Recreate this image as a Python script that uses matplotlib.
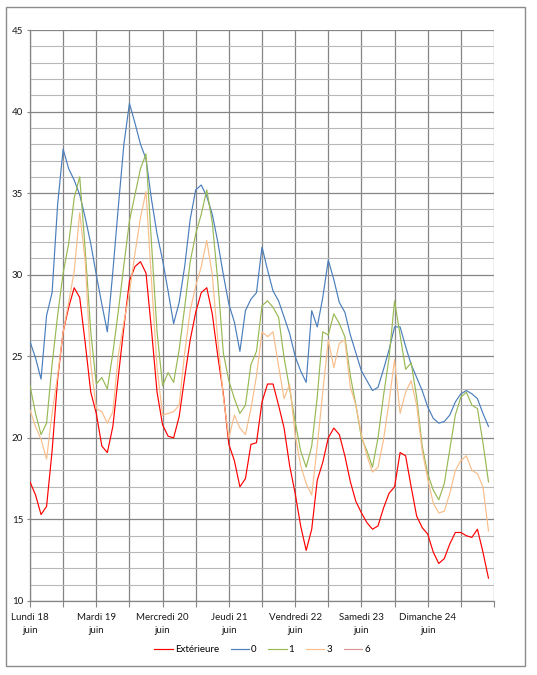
import matplotlib
matplotlib.use("Agg")
import matplotlib.pyplot as plt
from matplotlib.patches import Rectangle
from matplotlib.ticker import MultipleLocator


OUTPUT_PATH = "out.png"

# hours since Monday 18 June 00:00, one reading every 2 hours
hours = list(range(0, 168, 2))

exterieure = [
    17.3, 16.5, 15.3, 15.8, 19.2, 23.6, 26.5, 28.0, 29.2, 28.6, 25.8, 22.8,
    21.5, 19.5, 19.1, 20.7, 23.8, 26.8, 29.6, 30.5, 30.8, 30.1, 26.6, 22.8,
    20.8, 20.1, 20.0, 21.3, 23.7, 26.0, 27.7, 28.9, 29.2, 27.6, 25.0, 22.7,
    19.6, 18.6, 17.0, 17.5, 19.6, 19.7, 22.2, 23.3, 23.3, 22.0, 20.6, 18.3,
    16.6, 14.6, 13.1, 14.4, 17.4, 18.5, 20.0, 20.6, 20.2, 18.9, 17.3, 16.1,
    15.4, 14.8, 14.4, 14.6, 15.7, 16.6, 17.0, 19.1, 18.9, 17.0, 15.2, 14.5,
    14.1, 13.0, 12.3, 12.6, 13.5, 14.2, 14.2, 14.0, 13.9, 14.4, 13.0, 11.4,
]
niveau_0 = [
    25.9, 24.9, 23.6, 27.5, 28.9, 34.3, 37.7, 36.5, 35.8, 34.9, 33.5, 31.9,
    30.0, 28.2, 26.5, 30.2, 34.2, 38.0, 40.5, 39.3, 38.0, 37.1, 34.6, 32.5,
    30.9, 29.0, 27.0, 28.3, 30.5, 33.4, 35.2, 35.5, 34.8, 33.7, 32.0, 30.0,
    28.2, 27.1, 25.3, 27.8, 28.5, 28.9, 31.7, 30.3, 29.0, 28.4, 27.4, 26.4,
    25.0, 24.1, 23.4, 27.8, 26.8, 28.6, 30.9, 29.7, 28.3, 27.7, 26.3, 25.2,
    24.1, 23.5, 22.9, 23.1, 24.2, 25.4, 26.8, 26.8, 25.6, 24.5, 23.7, 22.9,
    21.9, 21.2, 20.9, 21.0, 21.4, 22.2, 22.7, 22.9, 22.7, 22.4, 21.5, 20.7,
]
niveau_1 = [
    23.2, 21.5, 20.2, 20.9, 24.5, 27.5, 30.1, 31.9, 34.7, 36.0, 31.5, 26.5,
    23.3, 23.7, 23.0, 25.2, 27.8, 30.6, 33.3, 34.9, 36.5, 37.4, 31.9, 26.5,
    23.2, 24.0, 23.4, 25.4, 28.0, 30.8, 32.5, 33.7, 35.2, 33.2, 29.6, 25.2,
    23.5, 22.4, 21.5, 22.0, 24.5, 25.3, 28.1, 28.4, 28.0, 27.4, 24.9, 23.0,
    21.0, 19.2, 18.2, 19.5, 22.5, 26.5, 26.3, 27.6, 27.0, 26.2, 23.8, 22.0,
    20.0, 19.2, 18.2, 20.0, 22.6, 24.9, 28.4, 26.3, 24.2, 24.6, 22.5, 19.5,
    17.8, 16.8, 16.2, 17.2, 19.3, 21.4, 22.5, 22.8, 22.0, 21.8, 19.7, 17.3,
]
niveau_3 = [
    21.7, 20.7, 19.9, 18.7, 21.5, 23.8, 26.5, 28.3, 30.2, 33.8, 30.8, 24.5,
    21.8, 21.6, 20.9, 21.6, 25.1, 27.1, 28.9, 31.3, 33.5, 35.1, 29.6, 24.3,
    21.4, 21.5, 21.6, 22.0, 25.2, 27.8, 29.3, 30.5, 32.1, 30.0, 26.0, 22.5,
    20.0, 21.4, 20.6, 20.2, 21.8, 23.8, 26.5, 26.2, 26.5, 24.4, 22.4, 23.3,
    20.2, 18.3, 17.2, 16.5, 19.5, 22.8, 26.0, 24.3, 25.8, 26.0, 23.1, 22.0,
    20.2, 18.9, 17.9, 18.2, 19.9, 22.2, 24.8, 21.5, 22.8, 23.5, 22.0, 19.2,
    17.5, 16.0, 15.4, 15.5, 16.6, 18.0, 18.6, 18.9, 18.0, 17.8, 17.0, 14.3,
]
niveau_6 = []  # listed in the legend, no readings drawn

day_labels = [
    "Lundi 18\njuin", "Mardi 19\njuin", "Mercredi 20\njuin", "Jeudi 21\njuin",
    "Vendredi 22\njuin", "Samedi 23\njuin", "Dimanche 24\njuin",
]
series_names = ["Extérieure", "0", "1", "3", "6"]
series_colors = ["#ff0000", "#4a7ebb", "#98b954", "#f9be8a", "#d99694"]


def main():
    plt.rcParams["font.family"] = ["Lato", "DejaVu Sans"]

    fig = plt.figure(figsize=(5.37, 6.75), dpi=100)
    fig.patch.set_facecolor("white")
    fig.patches.append(
        Rectangle(
            (6 / 537, 1 - 666 / 675),
            519 / 537,
            659 / 675,
            transform=fig.transFigure,
            facecolor="none",
            edgecolor="#8c8c8c",
            linewidth=1.0,
        )
    )

    ax = fig.add_axes([30 / 537, 74 / 675, 464 / 537, 571 / 675])
    ax.set_xlim(0, 168)
    ax.set_ylim(10, 45)

    values = [exterieure, niveau_0, niveau_1, niveau_3, niveau_6]
    for name, color, ys in zip(series_names, series_colors, values):
        ax.plot(hours[: len(ys)], ys, color=color, lw=0.85, label=name, zorder=3)

    # grid: 1-degree minor lines, 5-degree major lines, 12-hour verticals
    ax.yaxis.set_major_locator(MultipleLocator(5))
    ax.yaxis.set_minor_locator(MultipleLocator(1))
    ax.xaxis.set_major_locator(MultipleLocator(12))
    ax.grid(which="major", axis="both", color="#858585", lw=0.9, zorder=1)
    ax.grid(which="minor", axis="y", color="#b8b8b8", lw=0.8, zorder=1)

    ax.set_xticklabels([])
    for i, label in enumerate(day_labels):
        ax.text(
            i * 24,
            10 - 0.72,
            label,
            ha="center",
            va="top",
            fontsize=7,
            color="#1a1a1a",
            linespacing=1.55,
            clip_on=False,
        )

    ax.tick_params(axis="x", which="major", direction="out", length=4, width=0.8,
                   color="#858585")
    ax.tick_params(axis="y", which="major", direction="out", length=2, width=0.8,
                   color="#858585", labelsize=7, labelcolor="#1a1a1a", pad=3)
    ax.tick_params(axis="y", which="minor", length=0)

    for side in ["top", "right"]:
        ax.spines[side].set_visible(False)
    for side in ["left", "bottom"]:
        ax.spines[side].set_color("#858585")
        ax.spines[side].set_linewidth(0.9)

    fig.legend(
        loc="center",
        bbox_to_anchor=(262 / 537, 1 - 650 / 675),
        ncol=5,
        frameon=False,
        fontsize=7,
        handlelength=1.9,
        handletextpad=0.2,
        columnspacing=1.2,
    )

    fig.savefig(OUTPUT_PATH, dpi=100, facecolor=fig.get_facecolor())
    plt.close(fig)
    print(OUTPUT_PATH)


if __name__ == "__main__":
    main()
